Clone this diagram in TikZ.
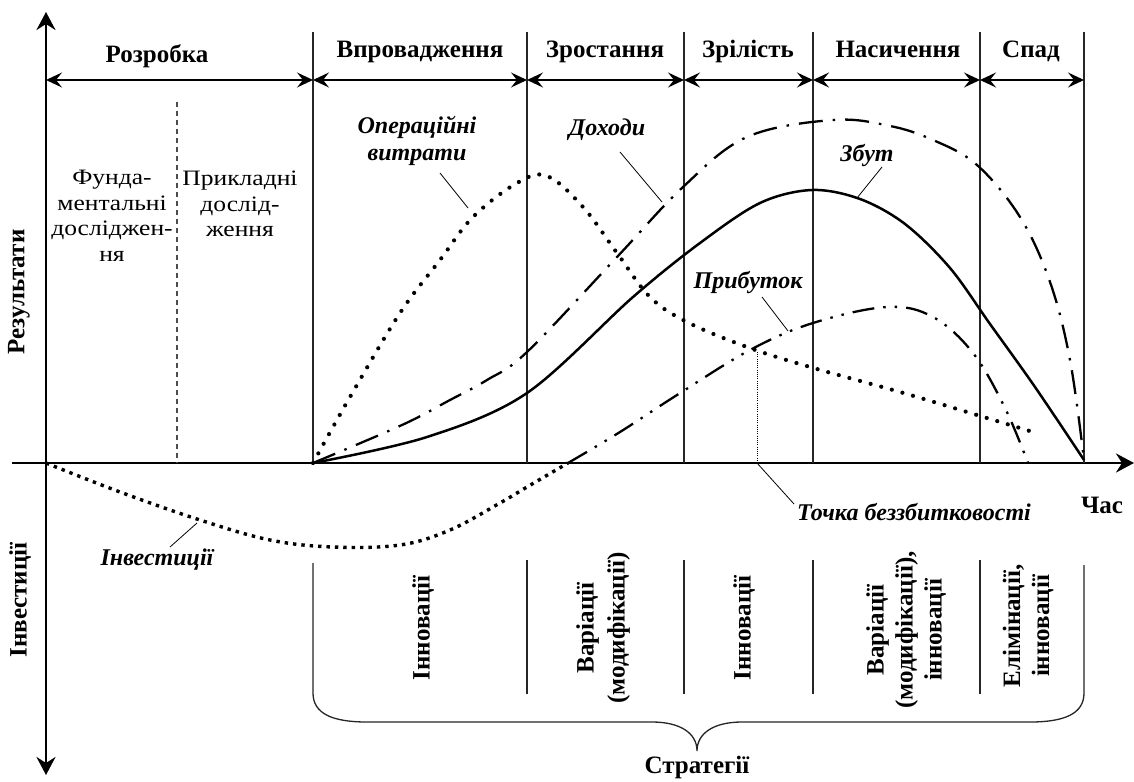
\documentclass[tikz,border=0pt]{standalone}
\usepackage{fontspec}
\setmainfont{Liberation Serif}
\newfontfamily\widefont[FakeStretch=1.16]{Liberation Serif}
\usetikzlibrary{arrows.meta}
\begin{document}
\begin{tikzpicture}[x=1pt,y=-1pt,
  hdr/.style={font=\fontsize{25}{29}\selectfont\bfseries, inner sep=0pt},
  lbl/.style={font=\fontsize{24}{27}\selectfont\bfseries\itshape, align=center, inner sep=0pt},
  txt/.style={font=\widefont\fontsize{22}{25.5}\selectfont, align=center, inner sep=0pt},
  strat/.style={font=\fontsize{25}{31}\selectfont\bfseries, align=center, rotate=90, inner sep=0pt},
  vline/.style={line width=1.3pt, draw=black!85},
  axis/.style={line width=2.6pt, -{Stealth[length=18pt,width=19pt,inset=6pt]}},
  dbl/.style={line width=1.8pt, {Stealth[length=16pt,width=15pt,inset=6pt]}-{Stealth[length=16pt,width=15pt,inset=6pt]}},
  leader/.style={line width=0.8pt},
  opcost/.style={line width=4.2pt, line cap=round, dash pattern=on 0pt off 11pt},
  invest/.style={line width=3.4pt, dash pattern=on 3.4pt off 5pt},
  revenue/.style={line width=2.3pt, dash pattern=on 24pt off 10pt on 2.5pt off 10pt},
  profit/.style={line width=2.3pt, dash pattern=on 22pt off 9pt on 2.5pt off 9pt on 2.5pt off 9pt},
  sales/.style={line width=2.5pt},
]
\useasboundingbox (0,0) rectangle (1134,781);
\fill[white] (0,0) rectangle (1134,781);

% axes
\coordinate (O) at (46,463);
\coordinate (ytop) at (46,12);
\coordinate (ybot) at (46,775);
\coordinate (xl) at (12,463);
\coordinate (xr) at (1134,463);
\draw[axis] (O) -- (ytop);
\draw[axis] (O) -- (ybot);
\draw[axis] (xl) -- (xr);

% phase boundaries
\foreach \n/\x in {1/313,2/527,3/684,4/813,5/980,6/1084}{
  \coordinate (t\n) at (\x,32);
  \coordinate (a\n) at (\x,463);
  \coordinate (h\n) at (\x,80);
  \draw[vline] (t\n) -- (a\n);
}
\coordinate (h0) at (46,80);
\draw[dbl] (h0) -- (h1);
\draw[dbl] (h1) -- (h2);
\draw[dbl] (h2) -- (h3);
\draw[dbl] (h3) -- (h4);
\draw[dbl] (h4) -- (h5);
\draw[dbl] (h5) -- (h6);

% dashed research divider
\coordinate (dtop) at (177,102);
\coordinate (dbot) at (177,463);
\draw[line width=1.3pt, draw=black!70, dash pattern=on 5pt off 4pt] (dtop) -- (dbot);

% header labels
\node[hdr, anchor=base] (hR) at (157,63) {Розробка};
\node[hdr, anchor=base] (hV) at (420,58) {Впровадження};
\node[hdr, anchor=base] (hZ) at (605,58) {Зростання};
\node[hdr, anchor=base] (hZr) at (748,58) {Зрілість};
\node[hdr, anchor=base] (hN) at (898,58) {Насичення};
\node[hdr, anchor=base] (hS) at (1031,58) {Спад};

% research texts
\node[txt] (fund) at (112,216) {Фунда-\\ментальні\\досліджен-\\ня};
\node[txt] (prikl) at (240,204) {Прикладні\\дослід-\\ження};

% axis labels
\node[hdr, rotate=90] (yres) at (19,292) {Результати};
\node[hdr, rotate=90] (yinv) at (20,600) {Інвестиції};
\node[hdr] (chas) at (1102,505) {Час};

% curves
\draw[opcost] plot[smooth, tension=0.6] coordinates {(313,463) (350,397) (400,313) (440,260) (473,217) (517,183) (547,176) (583,207) (617,253) (650,297) (687,322) (747,347) (810,367) (900,392) (977,415) (1033,432)};
\draw[revenue] plot[smooth, tension=0.6] coordinates {(313,463) (402,425) (450,400) (487,380) (527,352) (617,257) (683,187) (747,137) (833,120) (890,126) (933,140) (977,165) (1020,217) (1050,282) (1070,360) (1084,460)};
\draw[sales] plot[smooth, tension=0.55] coordinates {(313,463) (427,437) (527,393) (633,297) (700,243) (760,203) (812,190) (860,199) (905,224) (950,268) (990,324) (1035,387) (1084,460)};
\draw[profit] plot[smooth, tension=0.6] coordinates {(568,463) (620,432) (677,395) (750,350) (813,323) (887,307) (933,317) (973,353) (1005,408) (1028,463)};
\draw[invest] plot[smooth, tension=0.6] coordinates {(46,463) (120,492) (200,520) (270,540) (333,547) (400,545) (450,530) (500,503) (527,487) (568,463)};

% curve labels and leaders
\node[lbl] (lopc) at (417,141) {Операційні\\витрати};
\coordinate (lopcA) at (440,173);
\coordinate (lopcB) at (468,208);
\draw[leader] (lopcA) -- (lopcB);

\node[lbl] (lrev) at (607,130) {Доходи};
\coordinate (lrevA) at (620,152);
\coordinate (lrevB) at (662,202);
\draw[leader] (lrevA) -- (lrevB);

\node[lbl] (lsal) at (867,155) {Збут};
\coordinate (lsalA) at (882,167);
\coordinate (lsalB) at (857,198);
\draw[leader] (lsalA) -- (lsalB);

\node[lbl] (lpro) at (748,282) {Прибуток};
\coordinate (lproA) at (762,297);
\coordinate (lproB) at (788,331);
\draw[leader] (lproA) -- (lproB);

\node[lbl] (linv) at (157,560) {Інвестиції};
\coordinate (linvA) at (170,547);
\coordinate (linvB) at (197,523);
\draw[leader] (linvA) -- (linvB);

% break-even
\coordinate (be) at (757,352);
\coordinate (beax) at (757,463);
\draw[line width=0.9pt, dash pattern=on 1pt off 1.2pt] (be) -- (beax);
\node[lbl] (ltb) at (914,512) {Точка беззбитковості};
\coordinate (ltbA) at (794,504);
\draw[leader] (beax) -- (ltbA);

% strategies
\foreach \n/\x in {2/527,3/684,4/813,5/980}{
  \coordinate (st\n) at (\x,560);
  \coordinate (sb\n) at (\x,694);
  \draw[vline] (st\n) -- (sb\n);
}
\draw[line width=1.3pt, draw=black!85] (313,563) -- (313,693) .. controls (313,714) and (333,722) .. (367,722) -- (652,722) .. controls (680,722) and (697,733) .. (697,751) .. controls (697,733) and (714,722) .. (742,722) -- (1030,722) .. controls (1064,722) and (1084,714) .. (1084,693) -- (1084,565);

\node[strat] (s1) at (423,628) {Інновації};
\node[strat] (s2) at (603,628) {Варіації\\(модифікації)};
\node[strat] (s3) at (744,628) {Інновації};
\node[strat, font=\fontsize{25}{29}\selectfont\bfseries] (s4) at (906,630) {Варіації\\(модифікації),\\інновації};
\node[strat, font=\fontsize{25}{29}\selectfont\bfseries] (s5) at (1028,626) {Елімінації,\\інновації};
\node[hdr] (strg) at (697,767) {Стратегії};
\end{tikzpicture}
\end{document}
